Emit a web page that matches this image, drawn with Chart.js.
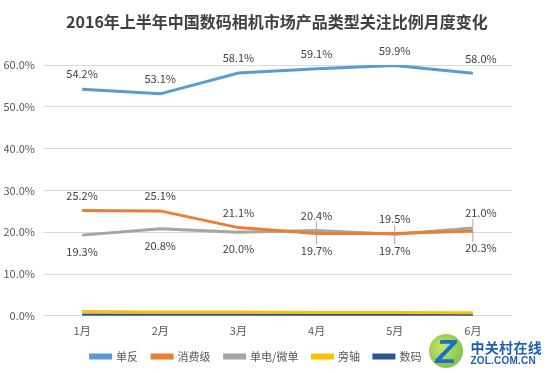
<!DOCTYPE html>
<html>
<head>
<meta charset="utf-8">
<script src="https://cdn.jsdelivr.net/npm/chart.js@4/dist/chart.umd.min.js"></script>
<style>
  html, body { margin: 0; padding: 0; background: #fff; }
  #wrap { position: relative; width: 550px; height: 373px; }
  #title { position: absolute; left: 0; width: 554px; top: 9px; text-align: center;
           font-family: "Noto Sans CJK SC", sans-serif; font-size: 16px; font-weight: bold; color: #404040; }
  #logo { position: absolute; right: 8px; bottom: 7px; font-family: "Noto Sans CJK SC", sans-serif; color: #1f5fb0; line-height: 1; }
  #logo .cn { font-size: 14px; font-weight: bold; letter-spacing: 0.3px; }
  #logo .en { font-size: 10px; font-weight: bold; font-family: "Liberation Sans", Arial, sans-serif; margin-top: 2px; letter-spacing: 0.2px; }
  #z { position: absolute; left: 429px; top: 334px; width: 34px; height: 34px; border-radius: 50%;
       background: radial-gradient(circle at 40% 40%, #c8e86a, #6cb33f);
       font-family: "Liberation Sans", Arial, sans-serif; font-weight: bold; font-size: 34px; line-height: 34px;
       color: #1d6fc4; text-align: center; font-style: italic; }
</style>
</head>
<body>
<div id="wrap">
  <canvas id="c" width="550" height="373"></canvas>
  <div id="title">2016年上半年中国数码相机市场产品类型关注比例月度变化</div>
  <div id="z">Z</div>
  <div id="logo"><div class="cn">中关村在线</div><div class="en">ZOL.COM.CN</div></div>
</div>
<script>
// ===== 数据 =====
const months = ['1月', '2月', '3月', '4月', '5月', '6月'];
const danfan = [54.2, 53.1, 58.1, 59.1, 59.9, 58.0];     // 单反
const xiaofei = [25.2, 25.1, 21.1, 19.7, 19.7, 20.3];    // 消费级
const dandian = [19.3, 20.8, 20.0, 20.4, 19.5, 21.0];    // 单电/微单
const pangzhou = [1.0, 0.9, 0.9, 0.8, 0.8, 0.7];         // 旁轴
const shuma = [0.2, 0.2, 0.2, 0.2, 0.2, 0.2];            // 数码
const yTicks = [0, 10, 20, 30, 40, 50, 60];

// 标签位置: 1 = 上方, -1 = 下方, 0 = 不显示
const labelPos = [
  [1, 1, 1, 1, 1, 1],
  [1, 1, 1, -1, -1, -1],
  [-1, -1, -1, 1, 1, 1],
  [0, 0, 0, 0, 0, 0],
  [0, 0, 0, 0, 0, 0]
];

const FONT = '"Noto Sans CJK SC", "Liberation Sans", sans-serif';

function serie(label, data, color) {
  return {
    label, data,
    borderColor: color, backgroundColor: color,
    borderWidth: 3, pointRadius: 0, tension: 0, fill: false
  };
}

const dataLabels = {
  id: 'dataLabels',
  afterDatasetsDraw(chart) {
    const c = chart.ctx;
    c.save();
    c.font = '11px ' + FONT;
    c.textAlign = 'center';
    c.textBaseline = 'middle';
    chart.data.datasets.forEach((ds, i) => {
      const meta = chart.getDatasetMeta(i);
      meta.data.forEach((pt, j) => {
        const p = labelPos[i][j];
        if (!p) return;
        const y = p > 0 ? pt.y - 15 : pt.y + 17;
        // 引导线 (4月-6月 两条线靠得近)
        if (j >= 3 && i > 0) {
          c.strokeStyle = '#A6A6A6';
          c.lineWidth = 1;
          c.beginPath();
          c.moveTo(pt.x, p > 0 ? y + 6 : pt.y + 1);
          c.lineTo(pt.x, p > 0 ? pt.y - 1 : y - 6);
          c.stroke();
        }
        c.fillStyle = '#404040';
        c.fillText(ds.data[j].toFixed(1) + '%', pt.x + (j === 5 ? 8 : 0), y);
      });
    });
    c.restore();
  }
};

new Chart(document.getElementById('c'), {
  type: 'line',
  data: {
    labels: months,
    datasets: [
      serie('单反', danfan, '#5B9BD5'),
      serie('消费级', xiaofei, '#ED7D31'),
      serie('单电/微单', dandian, '#A5A5A5'),
      serie('旁轴', pangzhou, '#FFC000'),
      serie('数码', shuma, '#2F5597')
    ]
  },
  options: {
    responsive: false,
    animation: false,
    layout: { padding: { left: 0, right: 38, top: 65, bottom: 1 } },
    plugins: {
      legend: {
        position: 'bottom',
        labels: {
          color: '#595959',
          font: { family: FONT, size: 11 },
          boxWidth: 20, boxHeight: 3,
          padding: 14
        }
      },
      tooltip: { enabled: false }
    },
    scales: {
      x: {
        offset: true,
        grid: { display: false },
        border: { display: false },
        ticks: { color: '#595959', font: { family: FONT, size: 11 }, padding: 0 }
      },
      y: {
        min: 0, max: 60,
        afterBuildTicks: ax => { ax.ticks = yTicks.map(v => ({ value: v })); },
        afterFit: ax => { ax.width = 43; },
        grid: { color: '#D9D9D9', drawTicks: false },
        border: { display: false },
        ticks: {
          color: '#595959', font: { family: FONT, size: 11 }, padding: 8,
          callback: v => v.toFixed(1) + '%'
        }
      }
    }
  },
  plugins: [dataLabels]
});
</script>
</body>
</html>
